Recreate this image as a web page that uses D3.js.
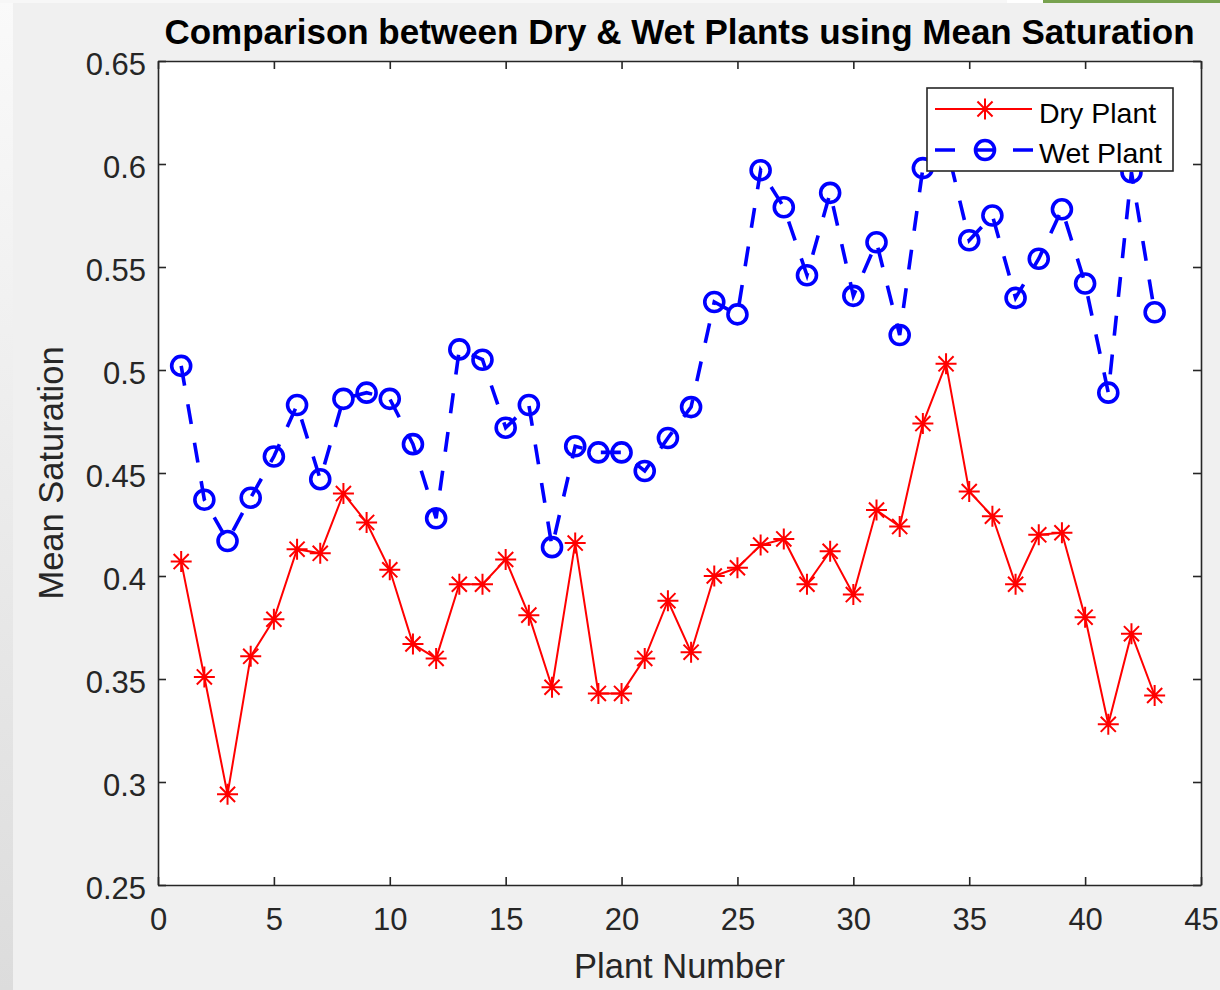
<!DOCTYPE html>
<html>
<head>
<meta charset="utf-8">
<script src="https://cdn.jsdelivr.net/npm/d3@7"></script>
<style>
    body { margin: 0; background: #f0f0f0; overflow: hidden; }
    text { font-family: "Liberation Sans", Arial, sans-serif; }
</style>
</head>
<body>
<div id="chart"></div>
<script>
// data
var plantNumber = [1, 2, 3, 4, 5, 6, 7, 8, 9, 10, 11, 12, 13, 14, 15, 16, 17, 18, 19, 20, 21, 22,
    23, 24, 25, 26, 27, 28, 29, 30, 31, 32, 33, 34, 35, 36, 37, 38, 39, 40, 41, 42, 43];

var dryPlant = [0.407, 0.351, 0.294, 0.361, 0.379, 0.413, 0.411, 0.440, 0.426, 0.403, 0.367,
    0.360, 0.396, 0.396, 0.408, 0.381, 0.346, 0.416, 0.343, 0.343, 0.360, 0.388, 0.363, 0.400,
    0.404, 0.415, 0.418, 0.396, 0.412, 0.391, 0.432, 0.424, 0.474, 0.503, 0.441, 0.429, 0.396,
    0.420, 0.421, 0.380, 0.328, 0.372, 0.342];

var wetPlant = [0.502, 0.437, 0.417, 0.438, 0.458, 0.483, 0.447, 0.486, 0.489, 0.486, 0.464,
    0.428, 0.510, 0.505, 0.472, 0.483, 0.414, 0.463, 0.460, 0.460, 0.451, 0.467, 0.482, 0.533,
    0.527, 0.597, 0.579, 0.546, 0.586, 0.536, 0.562, 0.517, 0.598, 0.610, 0.563, 0.575, 0.535,
    0.554, 0.578, 0.542, 0.489, 0.596, 0.528];

var xTicks = [0, 5, 10, 15, 20, 25, 30, 35, 40, 45];
var yTicks = [0.25, 0.3, 0.35, 0.4, 0.45, 0.5, 0.55, 0.6, 0.65];
var seriesNames = ["Dry Plant", "Wet Plant"];

var titleText = "Comparison between Dry & Wet Plants using Mean Saturation";
var xLabel = "Plant Number";
var yLabel = "Mean Saturation";


LineChart = function(_parentElement) {
    this.parentElement = _parentElement;
    this.initVis();
}

LineChart.prototype.initVis = function() {
    var vis = this;

    vis.margin = {top: 61, right: 19, bottom: 105, left: 158};
    vis.width = 1220 - vis.margin.left - vis.margin.right;
    vis.height = 990 - vis.margin.top - vis.margin.bottom;

    vis.svg = d3.select("#" + vis.parentElement).append("svg")
        .attr("width", 1220)
        .attr("height", 990);

    // window-ish bits round the figure
    vis.defs = vis.svg.append("defs");
    var grad = vis.defs.append("linearGradient")
        .attr("id", "leftStrip")
        .attr("x1", 0).attr("y1", 0).attr("x2", 0).attr("y2", 1);
    grad.append("stop").attr("offset", "0%").attr("stop-color", "#fafafa");
    grad.append("stop").attr("offset", "100%").attr("stop-color", "#dcdcdc");

    vis.svg.append("rect").attr("width", 1220).attr("height", 990).attr("fill", "#f0f0f0");
    vis.svg.append("rect").attr("width", 13).attr("height", 990).attr("fill", "url(#leftStrip)");
    vis.svg.append("rect").attr("width", 1007).attr("height", 3).attr("fill", "#f7f7f7");
    vis.svg.append("rect").attr("x", 1007).attr("width", 36).attr("height", 3).attr("fill", "#ffffff");
    vis.svg.append("rect").attr("x", 1043).attr("width", 177).attr("height", 3).attr("fill", "#78a24f");

    vis.g = vis.svg.append("g")
        .attr("transform", "translate(" + vis.margin.left + "," + vis.margin.top + ")");

    vis.x = d3.scaleLinear().domain([0, 45]).range([0, vis.width]);
    vis.y = d3.scaleLinear().domain([0.25, 0.65]).range([vis.height, 0]);

    vis.g.append("rect")
        .attr("width", vis.width)
        .attr("height", vis.height)
        .attr("fill", "#ffffff");

    vis.updateVis();
};

LineChart.prototype.asterisk = function(s) {
    var d = s * 0.72;
    return "M" + (-s) + ",0L" + s + ",0M0," + (-s) + "L0," + s +
        "M" + (-d) + "," + (-d) + "L" + d + "," + d +
        "M" + (-d) + "," + d + "L" + d + "," + (-d);
};

LineChart.prototype.updateVis = function() {
    var vis = this;

    var fmt = function(d) { return String(+d.toFixed(2)); };

    // axes, ticks pointing inward, box on all four sides
    var xAxis = d3.axisBottom(vis.x).tickValues(xTicks).tickFormat(fmt).tickSizeInner(-8).tickSizeOuter(0).tickPadding(23);
    var yAxis = d3.axisLeft(vis.y).tickValues(yTicks).tickFormat(fmt).tickSizeInner(-8).tickSizeOuter(0).tickPadding(12);
    var xTop = d3.axisTop(vis.x).tickValues(xTicks).tickFormat("").tickSizeInner(-8).tickSizeOuter(0);
    var yRight = d3.axisRight(vis.y).tickValues(yTicks).tickFormat("").tickSizeInner(-8).tickSizeOuter(0);

    var gx = vis.g.append("g").attr("transform", "translate(0," + vis.height + ")").call(xAxis);
    var gy = vis.g.append("g").call(yAxis);
    var gt = vis.g.append("g").call(xTop);
    var gr = vis.g.append("g").attr("transform", "translate(" + vis.width + ",0)").call(yRight);

    [gx, gy, gt, gr].forEach(function(a) {
        a.select(".domain").attr("stroke", "#262626").attr("stroke-width", 1.6);
        a.selectAll(".tick line").attr("stroke", "#262626").attr("stroke-width", 1.6);
        a.selectAll(".tick text")
            .attr("fill", "#262626")
            .style("font-size", "31px");
    });
    gx.selectAll(".tick text").attr("dy", "0.71em");
    gy.selectAll(".tick text").attr("dy", "0.45em");

    // dry plant: red solid line with asterisks
    var line = d3.line()
        .x(function(d, i) { return vis.x(plantNumber[i]); })
        .y(function(d) { return vis.y(d); });

    vis.g.append("path")
        .datum(dryPlant)
        .attr("d", line)
        .attr("fill", "none")
        .attr("stroke", "#ff0000")
        .attr("stroke-width", 2);

    vis.g.selectAll(".dry-marker")
        .data(dryPlant)
        .enter().append("path")
        .attr("class", "dry-marker")
        .attr("transform", function(d, i) {
            return "translate(" + vis.x(plantNumber[i]) + "," + vis.y(d) + ")";
        })
        .attr("d", vis.asterisk(10.5))
        .attr("fill", "none")
        .attr("stroke", "#ff0000")
        .attr("stroke-width", 2);

    // wet plant: blue dashed line with circles
    vis.g.append("path")
        .datum(wetPlant)
        .attr("d", line)
        .attr("fill", "none")
        .attr("stroke", "#0000ff")
        .attr("stroke-width", 3.6)
        .attr("stroke-dasharray", "20,19");

    vis.g.selectAll(".wet-marker")
        .data(wetPlant)
        .enter().append("circle")
        .attr("class", "wet-marker")
        .attr("cx", function(d, i) { return vis.x(plantNumber[i]); })
        .attr("cy", function(d) { return vis.y(d); })
        .attr("r", 9.5)
        .attr("fill", "none")
        .attr("stroke", "#0000ff")
        .attr("stroke-width", 3.6);

    // legend
    var lg = vis.svg.append("g").attr("class", "legend");
    lg.append("rect")
        .attr("x", 927).attr("y", 88)
        .attr("width", 246).attr("height", 83)
        .attr("fill", "#ffffff")
        .attr("stroke", "#262626")
        .attr("stroke-width", 1.6);

    lg.append("line")
        .attr("x1", 935).attr("x2", 1032).attr("y1", 109).attr("y2", 109)
        .attr("stroke", "#ff0000").attr("stroke-width", 2);
    lg.append("path")
        .attr("transform", "translate(985,109)")
        .attr("d", vis.asterisk(10.5))
        .attr("stroke", "#ff0000").attr("stroke-width", 2);

    lg.append("line")
        .attr("x1", 935).attr("x2", 1033).attr("y1", 150).attr("y2", 150)
        .attr("stroke", "#0000ff").attr("stroke-width", 3.6)
        .attr("stroke-dasharray", "20,19");
    lg.append("circle")
        .attr("cx", 985).attr("cy", 150).attr("r", 9.5)
        .attr("fill", "none")
        .attr("stroke", "#0000ff").attr("stroke-width", 3.6);

    lg.selectAll(".legend-text")
        .data(seriesNames)
        .enter().append("text")
        .attr("class", "legend-text")
        .attr("x", 1039)
        .attr("y", function(d, i) { return 123 + i * 40; })
        .attr("fill", "#000000")
        .style("font-size", "28.5px")
        .text(function(d) { return d; });

    // title and axis labels
    vis.svg.append("text")
        .attr("x", vis.margin.left + vis.width / 2)
        .attr("y", 44)
        .attr("text-anchor", "middle")
        .style("font-size", "35px")
        .style("font-weight", "bold")
        .attr("fill", "#000000")
        .text(titleText);

    vis.svg.append("text")
        .attr("x", vis.margin.left + vis.width / 2)
        .attr("y", 978)
        .attr("text-anchor", "middle")
        .style("font-size", "34.5px")
        .attr("fill", "#262626")
        .text(xLabel);

    vis.svg.append("text")
        .attr("transform", "translate(63," + (vis.margin.top + vis.height / 2) + ") rotate(-90)")
        .attr("text-anchor", "middle")
        .style("font-size", "34.5px")
        .attr("fill", "#262626")
        .text(yLabel);
};

var chart = new LineChart("chart");
</script>
</body>
</html>
